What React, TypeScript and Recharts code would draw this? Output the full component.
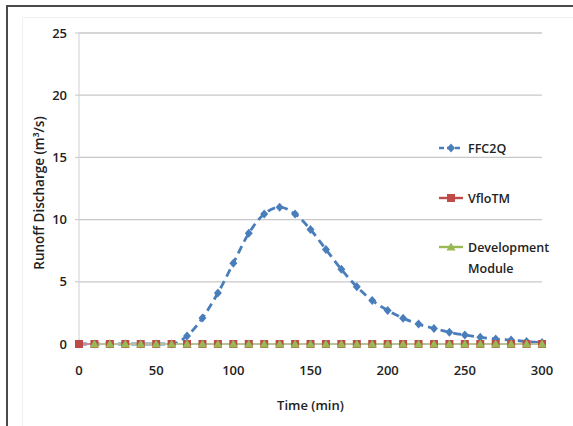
import React from 'react';
import { LineChart, Line, XAxis, YAxis, CartesianGrid, Legend } from 'recharts';

// time steps (min) and discharge values (m3/s)
const times = [0, 10, 20, 30, 40, 50, 60, 70, 80, 90, 100, 110, 120, 130, 140, 150, 160, 170, 180, 190, 200, 210, 220, 230, 240, 250, 260, 270, 280, 290, 300];
const ffc2q = [0, 0, 0, 0, 0, 0, 0, 0.65, 2.1, 4.1, 6.5, 8.9, 10.45, 11.0, 10.45, 9.2, 7.6, 6.0, 4.6, 3.5, 2.7, 2.07, 1.6, 1.25, 0.94, 0.72, 0.54, 0.4, 0.32, 0.2, 0.12];
const vflotm = [0, 0, 0, 0, 0, 0, 0, 0, 0, 0, 0, 0, 0, 0, 0, 0, 0, 0, 0, 0, 0, 0, 0, 0, 0, 0, 0, 0, 0, 0, 0];
const devModule = [null, 0, 0, 0, 0, 0, 0, 0, 0, 0, 0, 0, 0, 0, 0, 0, 0, 0, 0, 0, 0, 0, 0, 0, 0, 0, 0, 0, 0, 0, 0];
const xTicks = [0, 50, 100, 150, 200, 250, 300];
const yTicks = [0, 5, 10, 15, 20, 25];

const FONT = '"Open Sans", sans-serif';

const series = [
  { key: 'ffc2q', name: 'FFC2Q', color: '#4a7ebb', dash: '8 5', marker: 'diamond' },
  { key: 'vflotm', name: 'VfloTM', color: '#be4b48', dash: undefined, marker: 'square' },
  { key: 'dev', name: 'Development Module', color: '#98b954', dash: undefined, marker: 'triangle' },
];

const data = times.map((t, i) => ({
  t,
  ffc2q: ffc2q[i],
  vflotm: vflotm[i],
  dev: devModule[i],
}));

const markerShape = (shape: string, color: string, cx: number, cy: number, key?: any) => {
  if (shape === 'diamond') {
    return <path key={key} d={`M${cx},${cy - 4.5} L${cx + 4},${cy} L${cx},${cy + 4.5} L${cx - 4},${cy} Z`} fill={color} />;
  }
  if (shape === 'square') {
    return <rect key={key} x={cx - 4} y={cy - 4} width={8} height={8} fill={color} />;
  }
  return <path key={key} d={`M${cx},${cy - 4.5} L${cx + 4.5},${cy + 3.5} L${cx - 4.5},${cy + 3.5} Z`} fill={color} />;
};

const makeDot = (shape: string, color: string) => (props: any) => {
  const { cx, cy, index, value } = props;
  if (cx == null || cy == null || value == null) return <g key={`e-${index}`} />;
  return markerShape(shape, color, cx, cy, `d-${index}`);
};

const YLabel = () => (
  <text x={39} y={193} transform="rotate(-90, 39, 193)" textAnchor="middle" dominantBaseline="central"
    fontFamily={FONT} fontSize={13.5} fontWeight={600} fill="#222">
    Runoff Discharge (m³/s)
  </text>
);

const legendTops = [148, 198, 247];

const LegendContent = () => (
  <div style={{ position: 'relative', width: 0, height: 0 }}>
    {series.map((s, i) => (
      <div key={s.key} style={{ position: 'absolute', left: 437, top: legendTops[i] - 10, width: 130, height: 44 }}>
        <svg width={28} height={20} style={{ position: 'absolute', left: 0, top: 0 }}>
          <line x1={2} y1={10} x2={26} y2={10} stroke={s.color} strokeWidth={2.4} strokeDasharray={s.dash ? '5 3' : undefined} />
          {markerShape(s.marker, s.color, 14, 10)}
        </svg>
        <div style={{ position: 'absolute', left: 31, top: 0, width: 95, fontFamily: FONT, fontSize: 12.5, fontWeight: 600, color: '#222', lineHeight: '21px' }}>
          {s.name}
        </div>
      </div>
    ))}
  </div>
);

export default function App() {
  return (
    <div style={{ position: 'fixed', left: 0, top: 0, width: 573, height: 426, overflow: 'hidden', background: '#fff' }}>
      <div style={{ position: 'absolute', left: 6, top: 5, width: 620, height: 480, border: '2px solid #4a4a4a' }} />
      <div style={{ position: 'absolute', left: 22, top: 17, width: 620, height: 480, border: '1px solid #f0f0f0' }} />
      <div style={{ position: 'absolute', left: 0, top: 0 }}>
        <LineChart width={573} height={426} data={data} margin={{ top: 33, right: 31, bottom: 12, left: 0 }}>
          <CartesianGrid horizontal vertical={false} stroke="#c8c8c8" strokeWidth={1.3} />
          <XAxis
            dataKey="t"
            type="number"
            domain={[0, 300]}
            ticks={xTicks}
            height={70}
            tickLine={false}
            tickMargin={16}
            axisLine={{ stroke: '#d0d0d0' }}
            tick={{ fontFamily: FONT, fontSize: 13, fontWeight: 600, fill: '#222' }}
            label={{ value: 'Time (min)', position: 'insideBottom', offset: 4, fontFamily: FONT, fontSize: 13, fontWeight: 600, fill: '#222' }}
          />
          <YAxis
            domain={[0, 25]}
            ticks={yTicks}
            width={79}
            tickSize={4}
            tickMargin={8}
            tickLine={{ stroke: '#c8c8c8' }}
            axisLine={{ stroke: '#d0d0d0' }}
            tick={{ fontFamily: FONT, fontSize: 13, fontWeight: 600, fill: '#222' }}
            label={<YLabel />}
          />
          <Legend content={<LegendContent />} wrapperStyle={{ position: 'absolute', left: 0, top: 0, width: 0, height: 0, overflow: 'visible', pointerEvents: 'none' }} />
          {series.map((s) => (
            <Line
              key={s.key}
              dataKey={s.key}
              name={s.name}
              type="monotone"
              stroke={s.color}
              strokeWidth={s.key === 'ffc2q' ? 2.8 : 2.2}
              strokeDasharray={s.dash}
              dot={makeDot(s.marker, s.color)}
              activeDot={false}
              isAnimationActive={false}
            />
          ))}
        </LineChart>
      </div>
    </div>
  );
}
